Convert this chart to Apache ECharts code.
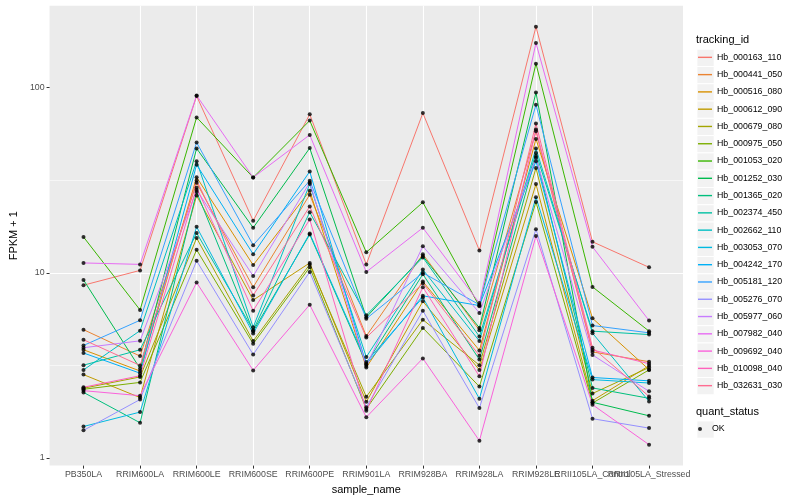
<!DOCTYPE html>
<html><head><meta charset="utf-8">
<script src="https://cdn.jsdelivr.net/npm/echarts@6/dist/echarts.min.js"></script>
<style>html,body{margin:0;padding:0;background:#fff}#c{width:800px;height:500px}</style>
</head><body><div id="c"></div>
<script>
const categories = ['PB350LA','RRIM600LA','RRIM600LE','RRIM600SE','RRIM600PE','RRIM901LA','RRIM928BA','RRIM928LA','RRIM928LE','RRII105LA_Control','RRII105LA_Stressed'];
const trackingIds = ['Hb_000163_110','Hb_000441_050','Hb_000516_080','Hb_000612_090','Hb_000679_080','Hb_000975_050','Hb_001053_020','Hb_001252_030','Hb_001365_020','Hb_002374_450','Hb_002662_110','Hb_003053_070','Hb_004242_170','Hb_005181_120','Hb_005276_070','Hb_005977_060','Hb_007982_040','Hb_009692_040','Hb_010098_040','Hb_032631_030'];
const colors = ['#F8766D','#EA8331','#D89000','#C09B00','#A3A500','#7CAE00','#39B600','#00BB4E','#00BF7D','#00C1A3','#00BFC4','#00BAE0','#00B0F6','#35A2FF','#9590FF','#C77CFF','#E76BF3','#FA62DB','#FF62BC','#FF6C91'];

// FPKM + 1 values, one array per tracking_id, in category order
const Hb_000163_110 = [8.57, 10.3, 90, 19.1, 71.7, 11.1, 72.8, 13.2, 213, 14.7, 10.7];
const Hb_000441_050 = [4.93, 3.55, 30.6, 8.36, 26.4, 4.55, 12.6, 4.9, 58.1, 3.74, 3.31];
const Hb_000516_080 = [3.84, 2.95, 32.8, 11.0, 27.7, 3.08, 8.97, 3.81, 52.8, 5.68, 3.0];
const Hb_000612_090 = [2.82, 2.12, 26.1, 7.12, 11.3, 2.01, 7.01, 2.99, 30.1, 2.04, 3.15];
const Hb_000679_080 = [2.38, 2.74, 15.4, 4.28, 11.1, 2.14, 5.58, 3.17, 36.8, 2.23, 3.08];
const Hb_000975_050 = [2.35, 2.56, 13.3, 4.14, 10.7, 1.84, 5.04, 2.43, 24.1, 1.98, 2.99];
const Hb_001053_020 = [15.6, 6.3, 69, 32.7, 66.3, 12.9, 24.0, 6.59, 134.6, 8.39, 4.84];
const Hb_001252_030 = [9.15, 3.04, 46.9, 17.5, 47.1, 5.75, 12.3, 5.04, 94, 2.0, 1.69];
const Hb_001365_020 = [2.26, 1.55, 27.3, 4.84, 16.1, 3.23, 9.82, 3.4, 42.7, 2.39, 2.1];
const Hb_002374_450 = [3.17, 3.84, 16.4, 4.9, 21.2, 5.9, 12.1, 4.53, 44.3, 4.84, 4.64];
const Hb_002662_110 = [2.99, 4.87, 40, 5.08, 30.1, 3.51, 10.4, 4.28, 46.9, 4.72, 2.02];
const Hb_003053_070 = [1.48, 1.77, 17.7, 4.70, 16.3, 3.30, 7.36, 2.09, 25.6, 2.65, 2.54];
const Hb_004242_170 = [3.69, 2.87, 38.3, 12.6, 35.2, 3.2, 7.51, 6.65, 40, 2.72, 2.61];
const Hb_005181_120 = [4.05, 5.54, 50.5, 14.1, 31.4, 5.65, 10.0, 6.72, 80.7, 5.19, 4.74];
const Hb_005276_070 = [1.41, 2.07, 11.6, 3.62, 10.1, 1.88, 6.24, 1.86, 17.2, 1.63, 1.45];
const Hb_005977_060 = [3.94, 4.29, 28, 9.6, 30.7, 3.14, 13.9, 6.07, 41.8, 3.60, 2.29];
const Hb_007982_040 = [11.3, 11.1, 90.6, 32.7, 55.5, 10.1, 17.5, 6.86, 174, 13.8, 5.52];
const Hb_009692_040 = [2.31, 2.17, 8.86, 2.97, 6.72, 1.66, 3.45, 1.24, 15.8, 1.94, 1.18];
const Hb_010098_040 = [2.41, 2.78, 28.8, 6.24, 19.4, 1.80, 8.36, 2.76, 59.3, 3.83, 3.23];
const Hb_032631_030 = [4.35, 3.16, 31.5, 7.55, 22.8, 4.47, 8.78, 3.57, 63.9, 3.94, 2.15];

const seriesValues = [Hb_000163_110, Hb_000441_050, Hb_000516_080, Hb_000612_090, Hb_000679_080, Hb_000975_050, Hb_001053_020, Hb_001252_030, Hb_001365_020, Hb_002374_450, Hb_002662_110, Hb_003053_070, Hb_004242_170, Hb_005181_120, Hb_005276_070, Hb_005977_060, Hb_007982_040, Hb_009692_040, Hb_010098_040, Hb_032631_030];
const yTickLabels = ['1', '10', '100'];
const yTickValues = [1, 10, 100];

const FONT = 'Liberation Sans, Arial, sans-serif';
const lg = v => Math.log10(v);

// ggplot-like expansion of the log range (5%)
const allVals = [].concat(...seriesValues);
const lo = lg(Math.min(...allVals)), hi = lg(Math.max(...allVals));
const pad = (hi - lo) * 0.05;
const yMin = lo - pad, yMax = hi + pad;
const xMin = -0.6, xMax = categories.length - 1 + 0.6;

const series = trackingIds.map((id, i) => ({
  type: 'line', name: id, color: colors[i],
  data: seriesValues[i].map((v, j) => [j, lg(v)]),
  showSymbol: false, symbol: 'none',
  lineStyle: { width: 1, color: colors[i] },
  itemStyle: { color: colors[i] },
  z: 2, silent: true
}));
const pts = [];
seriesValues.forEach(arr => arr.forEach((v, j) => pts.push([j, lg(v)])));
series.push({ type: 'scatter', name: 'OK', data: pts, symbol: 'circle', symbolSize: 4,
  itemStyle: { color: '#000' }, z: 5, silent: true });

const rowH = 17.28;
const leg1Top = 48.7, leg2Top = 420.4;
const graphics = [];
for (let i = 0; i < trackingIds.length; i++) {
  graphics.push({ type: 'rect', left: 696.4, top: leg1Top + i * rowH, silent: true, z: -1,
    shape: { width: rowH, height: rowH }, style: { fill: '#F2F2F2', stroke: '#fff', lineWidth: 1 } });
}
graphics.push({ type: 'rect', left: 696.4, top: leg2Top, silent: true, z: -1,
  shape: { width: rowH, height: rowH }, style: { fill: '#F2F2F2', stroke: '#fff', lineWidth: 1 } });
graphics.push({ type: 'text', left: 696, top: 34.5, silent: true,
  style: { text: 'tracking_id', fontSize: 11, fontFamily: FONT, fill: '#000' } });
graphics.push({ type: 'text', left: 696, top: 406, silent: true,
  style: { text: 'quant_status', fontSize: 11, fontFamily: FONT, fill: '#000' } });

// label positions: the categories, padded with empty edge labels so no real label is dropped
const xLabelValues = [xMin].concat(categories.map((c, i) => i), [xMax]);

const chart = echarts.init(document.getElementById('c'), null, { renderer: 'canvas' });
chart.setOption({
  animation: false,
  backgroundColor: '#fff',
  grid: { left: 40, top: 5.8, width: 643, height: 462.8, show: true, backgroundColor: '#EBEBEB', borderWidth: 0, containLabel: false },
  xAxis: {
    type: 'value', min: xMin, max: xMax, minInterval: 1, maxInterval: 1,
    name: 'sample_name', nameLocation: 'middle', nameGap: 13,
    nameTextStyle: { fontSize: 11, color: '#000', fontFamily: FONT },
    axisLine: { show: false, onZero: false },
    axisTick: { show: true, length: 3, lineStyle: { color: '#333', width: 1 }, customValues: categories.map((c, i) => i) },
    axisLabel: { customValues: xLabelValues,
      formatter: v => (Math.abs(v - Math.round(v)) < 1e-6 && categories[Math.round(v)]) || '',
      fontSize: 8.8, color: '#4D4D4D', fontFamily: FONT, margin: 4.5, hideOverlap: false,
      showMinLabel: false, showMaxLabel: false },
    splitLine: { show: true, showMinLine: false, showMaxLine: false, lineStyle: { color: '#fff', width: 1.1 } },
    minorSplitLine: { show: false }
  },
  yAxis: {
    type: 'value', min: yMin, max: yMax, minInterval: 1, maxInterval: 1,
    name: 'FPKM + 1', nameLocation: 'middle', nameGap: 22, nameRotate: 90,
    nameTextStyle: { fontSize: 11, color: '#000', fontFamily: FONT },
    axisLine: { show: false, onZero: false },
    axisTick: { show: true, length: 3, lineStyle: { color: '#333', width: 1 }, customValues: yTickValues.map(lg) },
    axisLabel: { customValues: yTickValues.map(lg), formatter: v => yTickLabels[Math.round(v)] || '',
      fontSize: 8.8, color: '#4D4D4D', fontFamily: FONT, margin: 5, showMinLabel: true, showMaxLabel: true },
    splitLine: { show: true, showMinLine: false, showMaxLine: false, lineStyle: { color: '#fff', width: 1.1 } },
    minorTick: { show: false, splitNumber: 2 },
    minorSplitLine: { show: true, lineStyle: { color: '#fff', width: 0.55 } }
  },
  legend: [
    { orient: 'vertical', left: 698, top: leg1Top, padding: 0, itemGap: 0, itemWidth: 14, itemHeight: 1.4,
      icon: 'rect', data: trackingIds, selectedMode: false, itemStyle: { borderWidth: 0 },
      textStyle: { fontSize: 8.8, fontFamily: FONT, color: '#000', lineHeight: rowH } },
    { orient: 'vertical', left: 698, top: leg2Top, padding: 0, itemGap: 0, itemWidth: 14, itemHeight: 4,
      icon: 'circle', data: ['OK'], selectedMode: false, itemStyle: { borderWidth: 0 },
      textStyle: { fontSize: 8.8, fontFamily: FONT, color: '#000', lineHeight: rowH } }
  ],
  graphic: graphics,
  series: series
});
</script></body></html>
